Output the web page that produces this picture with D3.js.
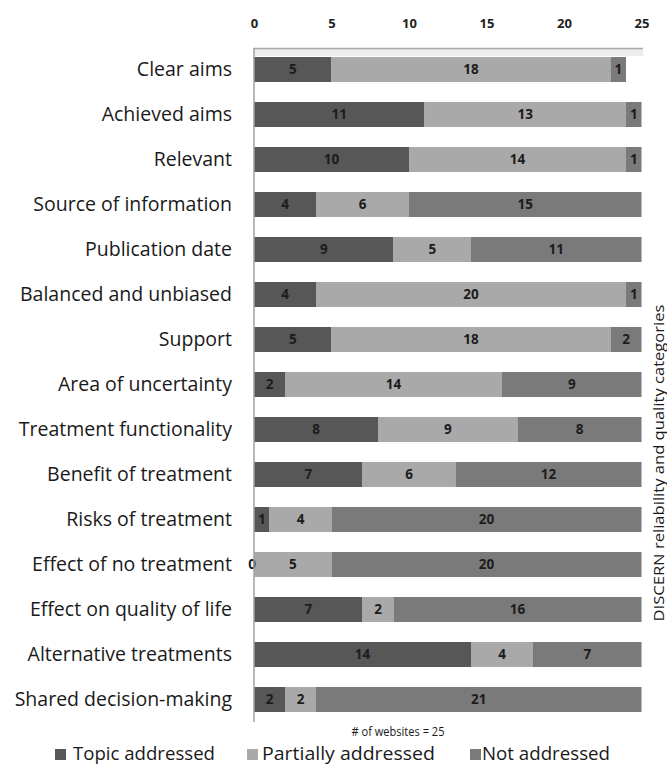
<!DOCTYPE html>
<html>
<head>
<meta charset="utf-8">
<script src="https://cdn.jsdelivr.net/npm/d3@7"></script>
<style>
  html, body { margin: 0; padding: 0; background: #fff; }
  svg { display: block; }
  text { font-family: "Open Sans", "DejaVu Sans", sans-serif; }
</style>
</head>
<body>
<svg id="chart" width="667" height="767"></svg>
<script>
const categories = [
  "Clear aims", "Achieved aims", "Relevant", "Source of information",
  "Publication date", "Balanced and unbiased", "Support",
  "Area of uncertainty", "Treatment functionality", "Benefit of treatment",
  "Risks of treatment", "Effect of no treatment", "Effect on quality of life",
  "Alternative treatments", "Shared decision-making"
];
const seriesNames = ["Topic addressed", "Partially addressed", "Not addressed"];
const topicAddressed     = [5, 11, 10, 4, 9, 4, 5, 2, 8, 7, 1, 0, 7, 14, 2];
const partiallyAddressed = [18, 13, 14, 6, 5, 20, 18, 14, 9, 6, 4, 5, 2, 4, 2];
const notAddressed       = [1, 1, 1, 15, 11, 1, 2, 9, 8, 12, 20, 20, 16, 7, 21];
const xTicks = [0, 5, 10, 15, 20, 25];
const axisTitle = "DISCERN reliability and quality categories";
const footNote = "# of websites = 25";
const colors = ["#575757", "#a9a9a9", "#7a7a7a"];

const svg = d3.select("#chart");

const rows = categories.map((c, i) => ({
  cat: c, vals: [topicAddressed[i], partiallyAddressed[i], notAddressed[i]]
}));
const stackData = rows.map(r => {
  const o = { cat: r.cat };
  seriesNames.forEach((s, k) => o[s] = r.vals[k]);
  return o;
});
const stacked = d3.stack().keys(seriesNames)(stackData);

const x = d3.scaleLinear().domain([0, 25]).range([254, 641.5]);
const y = d3.scaleBand().domain(categories)
  .range([37, 732]).paddingInner(20 / 45).paddingOuter(20 / 45);

// top band
svg.append("rect").attr("x", x(0)).attr("y", 48).attr("width", x(25) - x(0) + 1.5)
  .attr("height", 8).attr("fill", "#ededed");
svg.append("line").attr("x1", x(0)).attr("x2", x(25) + 1.5).attr("y1", 48.5).attr("y2", 48.5)
  .attr("stroke", "#a8a8a8").attr("stroke-width", 1.5);

// top axis
const axis = d3.axisTop(x).tickValues(xTicks).tickSize(0).tickPadding(0);
const ag = svg.append("g").attr("transform", "translate(0,28)").call(axis);
ag.select(".domain").remove();
ag.selectAll("text").attr("font-size", 13).attr("font-weight", "bold")
  .attr("fill", "#222").attr("font-family", "'Open Sans', sans-serif");

// bars
const layer = svg.append("g").selectAll("g").data(stacked).join("g")
  .attr("fill", (d, i) => colors[i]);
layer.selectAll("rect").data(d => d).join("rect")
  .attr("x", d => x(d[0]))
  .attr("y", d => y(d.data.cat))
  .attr("width", d => x(d[1]) - x(d[0]))
  .attr("height", y.bandwidth());

// segment labels
const lab = svg.append("g");
stacked.forEach(s => {
  s.forEach(d => {
    const v = d[1] - d[0];
    lab.append("text")
      .attr("x", (x(d[0]) + x(d[1])) / 2 - (v === 0 ? 2 : 0))
      .attr("y", y(d.data.cat) + y.bandwidth() / 2)
      .attr("dy", "0.36em")
      .attr("text-anchor", "middle")
      .attr("font-size", 13.5).attr("font-weight", "bold").attr("fill", "#1c1c1c")
      .text(v);
  });
});

// vertical axis line
svg.append("line").attr("x1", x(0)).attr("x2", x(0)).attr("y1", 48).attr("y2", 722)
  .attr("stroke", "#a0a0a0").attr("stroke-width", 1.5);

// category labels
const catG = svg.append("g");
const catTexts = catG.selectAll("text").data(categories).join("text")
  .attr("x", 232)
  .attr("y", d => y(d) + y.bandwidth() / 2)
  .attr("dy", "0.35em")
  .attr("text-anchor", "end")
  .attr("font-size", 16)
  .attr("fill", "#1a1a1a")
  .text(d => d);
const refNode = catTexts.filter(d => d === "Balanced and unbiased").node();
const w16 = refNode.getComputedTextLength();
const fs = 16 * 212 / w16;
catTexts.attr("font-size", fs.toFixed(2));

// right axis title
svg.append("text")
  .attr("transform", "translate(659,463) rotate(-90)")
  .attr("text-anchor", "middle").attr("dy", "0.35em")
  .attr("font-size", 14).attr("fill", "#1a1a1a")
  .attr("textLength", 317).attr("lengthAdjust", "spacingAndGlyphs")
  .text(axisTitle);

// footnote
svg.append("text")
  .attr("x", 398).attr("y", 736).attr("text-anchor", "middle")
  .attr("font-size", 13).attr("fill", "#1a1a1a")
  .attr("textLength", 93).attr("lengthAdjust", "spacingAndGlyphs")
  .text(footNote);

// legend
const legendX = [55, 247, 470];
const legendTextX = [73, 262, 482];
const legendW = [142, 173, 128];
const lg = svg.append("g");
seriesNames.forEach((s, i) => {
  lg.append("rect").attr("x", legendX[i]).attr("y", 749).attr("width", 11).attr("height", 11)
    .attr("fill", colors[i]);
  lg.append("text").attr("x", legendTextX[i]).attr("y", 760)
    .attr("font-size", 17.5).attr("fill", "#1a1a1a")
    .attr("textLength", legendW[i]).attr("lengthAdjust", "spacingAndGlyphs")
    .text(s);
});
</script>
</body>
</html>
